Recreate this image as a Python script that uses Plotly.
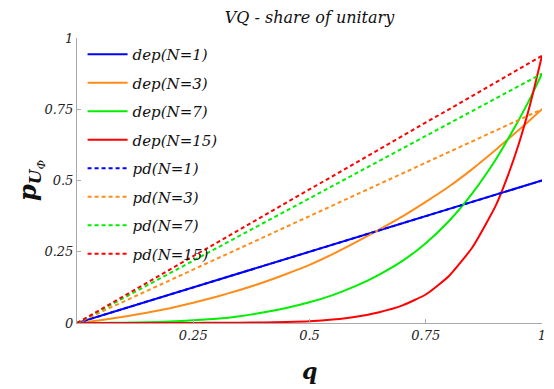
import plotly.graph_objects as go

# values
q = [0, 0.05, 0.1, 0.15, 0.2, 0.25, 0.3, 0.35, 0.4, 0.45, 0.5,
     0.55, 0.6, 0.65, 0.7, 0.75, 0.8, 0.85, 0.9, 0.925, 0.95, 0.975, 1.0]
q_line = [0, 1]

dep_1 = [0, 0.5]
dep_3 = [0, 0.01, 0.022, 0.036, 0.052, 0.071, 0.092, 0.116, 0.142, 0.172, 0.204,
         0.242, 0.284, 0.328, 0.374, 0.425, 0.479, 0.54, 0.607, 0.642, 0.677, 0.713, 0.75]
dep_7 = [0, 0.0003, 0.001, 0.0025, 0.005, 0.0095, 0.015, 0.024, 0.037, 0.053, 0.073,
         0.098, 0.13, 0.17, 0.218, 0.28, 0.358, 0.455, 0.572, 0.64, 0.712, 0.79, 0.875]
dep_15 = [0, 0, 0, 0.0001, 0.0002, 0.0004, 0.0006, 0.001, 0.002, 0.0035, 0.006,
          0.012, 0.022, 0.038, 0.062, 0.1, 0.165, 0.265, 0.41, 0.51, 0.628, 0.77, 0.9375]

pd_1 = [0, 0.5]
pd_3 = [0, 0.75]
pd_7 = [0, 0.875]
pd_15 = [0, 0.9375]

colors = ['#0000ff', '#ff8c1a', '#00ee00', '#ff0000']
font_name = 'DejaVu Serif'

series = [
    ('dep(N=1)', q_line, dep_1, colors[0], 'solid'),
    ('dep(N=3)', q, dep_3, colors[1], 'solid'),
    ('dep(N=7)', q, dep_7, colors[2], 'solid'),
    ('dep(N=15)', q, dep_15, colors[3], 'solid'),
    ('pd(N=1)', q_line, pd_1, colors[0], '4px,3px'),
    ('pd(N=3)', q_line, pd_3, colors[1], '4px,3px'),
    ('pd(N=7)', q_line, pd_7, colors[2], '4px,3px'),
    ('pd(N=15)', q_line, pd_15, colors[3], '4px,3px'),
]

fig = go.Figure()
for i, (name, xs, ys, col, dash) in enumerate(series):
    fig.add_trace(go.Scatter(x=xs, y=ys, name=name, mode='lines',
                             legendgroup=str(i),
                             line=dict(color=col, width=2, dash=dash, shape='spline', smoothing=0.5)))

# page has an 8px body margin, so the figure is a bit smaller than the window
fig.update_layout(
    width=546, height=381,
    margin=dict(l=69, r=12, t=30, b=66),
    plot_bgcolor='white', paper_bgcolor='white',
    font=dict(family=font_name, size=13, color='#222222', style='italic'),
    title=dict(text='VQ - share of unitary', x=0.5, xref='paper', xanchor='center',
               y=0.99, yref='container', yanchor='top', pad=dict(t=0),
               font=dict(family=font_name, size=16, style='italic', color='#111111')),
    legend=dict(x=0.012, y=1.0, xanchor='left', yanchor='top', bgcolor='rgba(0,0,0,0)',
                font=dict(family=font_name, size=15, style='italic', color='#111111'),
                tracegroupgap=6, itemwidth=40, maxheight=330),
    showlegend=True,
)

fig.update_xaxes(range=[0, 1], tickvals=[0.25, 0.5, 0.75, 1], ticktext=['0.25', '0.5', '0.75', '1'],
                 showgrid=False, zeroline=False, showline=True, linecolor='#aaaaaa', linewidth=1,
                 ticks='inside', ticklen=4, tickcolor='#aaaaaa', automargin=False)
fig.update_yaxes(range=[0, 1], tickvals=[0, 0.25, 0.5, 0.75, 1], ticktext=['0', '0.25', '0.5', '0.75', '1'],
                 showgrid=False, zeroline=False, showline=True, linecolor='#aaaaaa', linewidth=1,
                 ticks='inside', ticklen=4, tickcolor='#aaaaaa', automargin=False)

# axis titles
fig.add_annotation(text='<b>q</b>', x=0.5, y=-0.17, xref='paper', yref='paper',
                   xanchor='center', yanchor='middle', showarrow=False,
                   font=dict(family=font_name, size=22, style='italic', color='#111111'))
fig.add_annotation(text='<b>p</b><sub><b>U</b><sub>Φ</sub></sub>', x=-0.1, y=0.5,
                   xref='paper', yref='paper', textangle=-90,
                   xanchor='center', yanchor='middle', showarrow=False,
                   font=dict(family=font_name, size=24, style='italic', color='#111111'))

fig.write_html("out.html")
